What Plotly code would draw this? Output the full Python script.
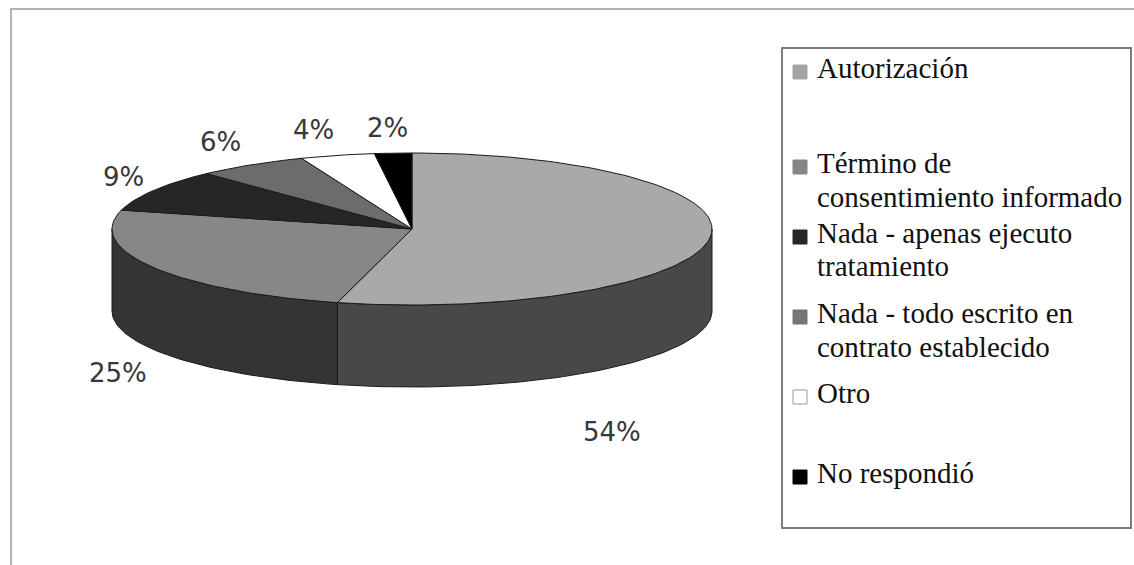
import numpy as np
import plotly.graph_objects as go

# ---- data -------------------------------------------------------------
categories = [
    "Autorización",
    "Término de consentimiento informado",
    "Nada - apenas ejecuto tratamiento",
    "Nada - todo escrito en contrato establecido",
    "Otro",
    "No respondió",
]
shares = [54, 25, 9, 6, 4, 2]
legend_lines = [
    ["Autorización"],
    ["Término de", "consentimiento informado"],
    ["Nada - apenas ejecuto", "tratamiento"],
    ["Nada - todo escrito en", "contrato establecido"],
    ["Otro"],
    ["No respondió"],
]

# ---- styling ----------------------------------------------------------
W, H = 1134, 565
CX, CY = 412, 229          # centre of the top face (px)
RA, RB = 300, 76           # ellipse semi-axes of the top face
DEPTH = 82                 # thickness of the disc

top_colors = ["#a9a9a9", "#878787", "#262626", "#6c6c6c", "#ffffff", "#000000"]
side_colors = ["#484848", "#343434", "#151515", "#404040", "#d0d0d0", "#000000"]
swatch_colors = ["#a3a3a3", "#858585", "#262626", "#767676", "#ffffff", "#000000"]
edge_color = "#1a1a1a"

label_pos = [(612, 432), (118, 373), (123, 177), (220, 142), (313, 130), (387, 128)]
legend_y = [[68], [163, 197], [233, 266], [313, 347], [393], [473]]
LEG_TEXT_X = 815
LEG_SW_X = 800
SERIF = "Liberation Serif, Times New Roman, DejaVu Serif, serif"


def ellipse_pts(t0, t1, dy=0.0, n=None):
    if n is None:
        n = max(3, int(abs(t1 - t0) / 1.5) + 2)
    t = np.radians(np.linspace(t0, t1, n))
    return CX + RA * np.sin(t), CY - RB * np.cos(t) + dy


fig = go.Figure()

# slice angles, clockwise from 12 o'clock
total = float(sum(shares))
bounds = np.concatenate([[0.0], np.cumsum(shares) / total * 360.0])

# side walls (only the front half, 90..270 deg, is visible)
for i in range(len(shares)):
    s0, s1 = max(bounds[i], 90.0), min(bounds[i + 1], 270.0)
    if s1 <= s0:
        continue
    xt, yt = ellipse_pts(s0, s1)
    xb, yb = ellipse_pts(s1, s0, dy=DEPTH)
    xs = np.concatenate([xt, xb, xt[:1]])
    ys = np.concatenate([yt, yb, yt[:1]])
    fig.add_trace(go.Scatter(
        x=xs, y=ys, mode="lines", fill="toself",
        fillcolor=side_colors[i], line=dict(color=edge_color, width=1),
        hoverinfo="skip", showlegend=False))

# top faces
for i in range(len(shares)):
    xa, ya = ellipse_pts(bounds[i], bounds[i + 1])
    xs = np.concatenate([[CX], xa, [CX]])
    ys = np.concatenate([[CY], ya, [CY]])
    fig.add_trace(go.Scatter(
        x=xs, y=ys, mode="lines", fill="toself",
        fillcolor=top_colors[i], line=dict(color=edge_color, width=1),
        name=categories[i], hoverinfo="skip", showlegend=False))

# percentage labels
for i, v in enumerate(shares):
    lx, ly = label_pos[i]
    fig.add_annotation(
        x=lx, y=ly, xref="x", yref="y", text=f"{v}%", showarrow=False,
        xanchor="center", yanchor="middle",
        font=dict(family="DejaVu Sans", size=26, color="#383838"))

shapes = [
    # outer chart frame
    dict(type="rect", xref="x", yref="y", x0=11, y0=9, x1=W + 10, y1=H + 10,
         line=dict(color="#b4b4b4", width=2), fillcolor="rgba(0,0,0,0)", layer="below"),
    # legend frame
    dict(type="rect", xref="x", yref="y", x0=782, y0=48, x1=1131, y1=528,
         line=dict(color="#7c7c7c", width=2), fillcolor="white", layer="below"),
]

# legend entries
for i, lines in enumerate(legend_lines):
    yc = legend_y[i][0] + 4
    shapes.append(dict(
        type="rect", xref="x", yref="y",
        x0=LEG_SW_X - 7, x1=LEG_SW_X + 7, y0=yc - 7, y1=yc + 7,
        fillcolor=swatch_colors[i],
        line=dict(color="#9a9a9a" if swatch_colors[i] == "#ffffff" else swatch_colors[i], width=1)))
    for txt, ly in zip(lines, legend_y[i]):
        fig.add_annotation(
            x=LEG_TEXT_X, y=ly, xref="x", yref="y", text=txt, showarrow=False,
            xanchor="left", yanchor="middle",
            font=dict(family=SERIF, size=29, color="#111111"))

fig.update_layout(
    width=W, height=H,
    margin=dict(l=0, r=0, t=0, b=0),
    paper_bgcolor="white", plot_bgcolor="white",
    xaxis=dict(range=[0, W], visible=False, fixedrange=True),
    yaxis=dict(range=[H, 0], visible=False, fixedrange=True),
    shapes=shapes,
)

fig.write_html("out.html")
